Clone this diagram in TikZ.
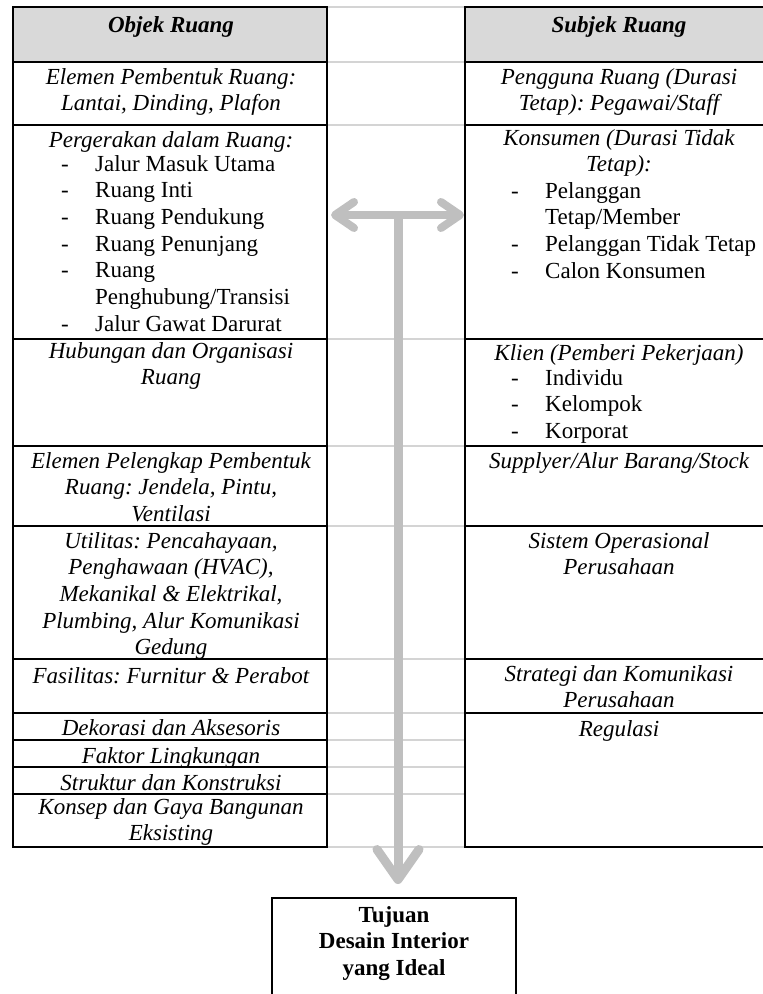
\documentclass[tikz,border=0pt]{standalone}
\usepackage{fontspec}
\setmainfont{Liberation Serif}
\usetikzlibrary{arrows.meta}

\definecolor{hdrfill}{RGB}{217,217,217}
\definecolor{arrowgray}{RGB}{191,191,191}
\definecolor{faintline}{RGB}{212,212,212}

% list markers: a dash in a fixed-width box, and the matching indent
\newcommand{\itemdash}{\makebox[34pt][l]{-}}
\newcommand{\itemgap}{\hspace*{34pt}}
\newcommand{\firststrut}{\rule{0pt}{18pt}}
\frenchspacing

\begin{document}
\begin{tikzpicture}[x=1pt,y=-1pt,
  rule/.style={line width=1.6pt, black},
  faint/.style={line width=1.4pt, faintline},
  txt/.style={font=\fontsize{23}{26.67}\selectfont\itshape\frenchspacing, inner sep=0pt,
    anchor=north, align=center, execute at begin node=\firststrut},
  hdr/.style={txt, font=\fontsize{23}{26.67}\selectfont\bfseries\itshape},
  listtxt/.style={txt, font=\fontsize{23}{26.67}\selectfont, anchor=north west, align=left},
  goaltxt/.style={txt, font=\fontsize{23}{26.67}\selectfont\bfseries},
  flow/.style={line width=8pt, arrowgray},
]
\useasboundingbox (0,0) rectangle (763,994);

% header shading
\fill[hdrfill] (13,7) rectangle (327,62);
\fill[hdrfill] (465,7) rectangle (772,62);

% faint rules across the middle gap
\foreach \y in {7,62,125,339,446,526,659,713,740,767,794,847}
  \draw[faint] (327,\y) -- (465,\y);

% left table
\draw[rule] (13,7) rectangle (327,847);
\foreach \y in {62,125,339,446,526,659,713,740,767,794}
  \draw[rule] (13,\y) -- (327,\y);

% right table
\draw[rule] (465,7) rectangle (772,847);
\foreach \y in {62,125,339,446,526,659,713}
  \draw[rule] (465,\y) -- (772,\y);

% left column texts
\node[hdr] (objek) at (171,14) {Objek Ruang};
\node[txt] (elemen) at (171,68) {Elemen Pembentuk Ruang:\\Lantai, Dinding, Plafon};
\node[txt] (gerak) at (171,129) {Pergerakan dalam Ruang:};
\node[listtxt] (geraklist) at (61,155) {\itemdash Jalur Masuk Utama\\
  \itemdash Ruang Inti\\
  \itemdash Ruang Pendukung\\
  \itemdash Ruang Penunjang\\
  \itemdash Ruang\\
  \itemgap Penghubung/Transisi\\
  \itemdash Jalur Gawat Darurat};
\node[txt] (hubungan) at (171,342) {Hubungan dan Organisasi\\Ruang};
\node[txt] (pelengkap) at (171,452) {Elemen Pelengkap Pembentuk\\Ruang: Jendela, Pintu,\\Ventilasi};
\node[txt] (utilitas) at (171,532) {Utilitas: Pencahayaan,\\Penghawaan (HVAC),\\Mekanikal \& Elektrikal,\\Plumbing, Alur Komunikasi\\Gedung};
\node[txt] (fasilitas) at (171,665) {Fasilitas: Furnitur \& Perabot};
\node[txt] (dekorasi) at (171,717) {Dekorasi dan Aksesoris};
\node[txt] (faktor) at (171,745) {Faktor Lingkungan};
\node[txt] (struktur) at (171,772) {Struktur dan Konstruksi};
\node[txt] (konsep) at (171,798) {Konsep dan Gaya Bangunan\\Eksisting};

% right column texts
\node[hdr] (subjek) at (619,14) {Subjek Ruang};
\node[txt] (pengguna) at (619,68) {Pengguna Ruang (Durasi\\Tetap): Pegawai/Staff};
\node[txt] (konsumen) at (619,129) {Konsumen (Durasi Tidak\\Tetap):};
\node[listtxt] (konsumenlist) at (511,182) {\itemdash Pelanggan\\
  \itemgap Tetap/Member\\
  \itemdash Pelanggan Tidak Tetap\\
  \itemdash Calon Konsumen};
\node[txt] (klien) at (619,342) {Klien (Pemberi Pekerjaan)};
\node[listtxt] (klienlist) at (511,369) {\itemdash Individu\\
  \itemdash Kelompok\\
  \itemdash Korporat};
\node[txt] (supplyer) at (619,450) {Supplyer/Alur Barang/Stock};
\node[txt] (sistem) at (619,532) {Sistem Operasional\\Perusahaan};
\node[txt] (strategi) at (619,665) {Strategi dan Komunikasi\\Perusahaan};
\node[txt] (regulasi) at (619,718) {Regulasi};

% goal box
\node[draw, rule, minimum width=244pt, minimum height=110pt, anchor=north, inner sep=0pt]
  (goal) at (394,897) {};
\node[goaltxt] (goaltext) at (394,906) {Tujuan\\Desain Interior\\yang Ideal};

% flow arrows
\coordinate (hL) at (331,215);
\coordinate (hR) at (464,215);
\coordinate (vTop) at (398,211);
\coordinate (vTip) at (398,884);
\draw[flow, {Straight Barb[length=19pt,width=26pt,round]}-{Straight Barb[length=19pt,width=26pt,round]}] (hL) -- (hR);
\draw[flow, line width=9pt, -{Straight Barb[length=30pt,width=42pt,round]}] (vTop) -- (vTip);
\end{tikzpicture}
\end{document}
